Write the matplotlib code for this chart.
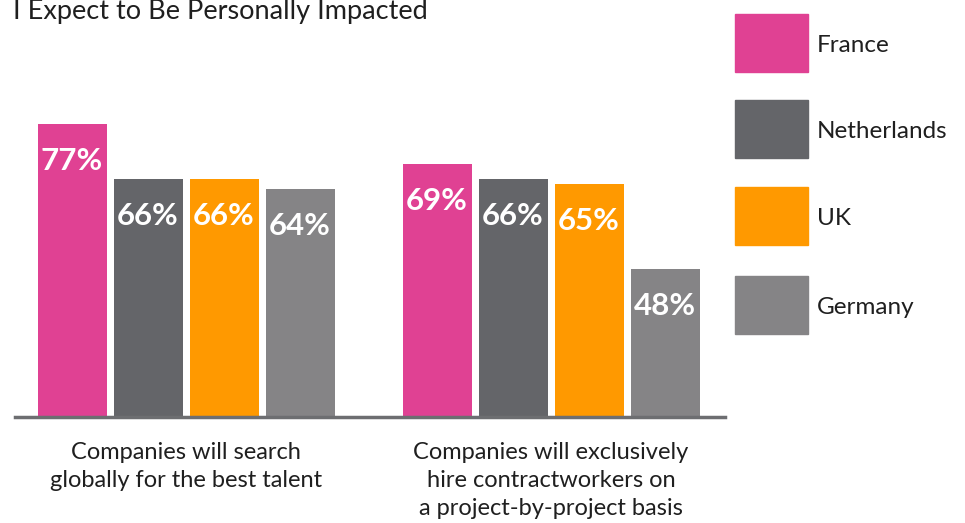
import matplotlib
matplotlib.use("Agg")
import matplotlib.pyplot as plt
from matplotlib.patches import Rectangle
import numpy as np

plt.rcParams['font.family'] = ['Lato', 'DejaVu Sans']

title = "I Expect to Be Personally Impacted"
categories = ["Companies will search\nglobally for the best talent",
              "Companies will exclusively\nhire contractworkers on\na project-by-project basis"]
countries = ["France", "Netherlands", "UK", "Germany"]
values = {
    "France":      [77, 69],
    "Netherlands": [66, 66],
    "UK":          [66, 65],
    "Germany":     [64, 48],
}
colors = {
    "France": "#E04193",
    "Netherlands": "#646569",
    "UK": "#FF9900",
    "Germany": "#858486",
}
TEXT = "#1f1f1f"
W, H = 965, 523
fig = plt.figure(figsize=(W / 100, H / 100), dpi=100)

# axes placed in pixel units: x 15..725, y 117..417 (from top)
ax = fig.add_axes([15 / W, (H - 417) / H, 710 / W, 300 / H])
ax.set_ylim(18.4, 78.4)
ax.set_xlim(-0.4685, 1.4767)

step = 76 / 365
width = 69 / 365
x = np.arange(len(categories))
for i, c in enumerate(countries):
    pos = x + (i - 1.5) * step
    ax.bar(pos, values[c], width=width, color=colors[c], bottom=0, zorder=2)
    for xp, v in zip(pos, values[c]):
        ax.text(xp, v - 7.4, f"{v}%", ha="center", va="center", color="white",
                fontsize=22.5, fontweight="bold", zorder=3)

for s in ["top", "right", "left"]:
    ax.spines[s].set_visible(False)
ax.spines["bottom"].set_color("#6d6e71")
ax.spines["bottom"].set_linewidth(2.5)
ax.set_yticks([])
ax.set_xticks(x)
ax.set_xticklabels(categories, fontsize=17, color=TEXT, linespacing=1.4,
                   va="top")
ax.tick_params(axis="x", length=0, pad=18)

fig.text(13 / W, 1 - 12 / H, title, fontsize=19.5, color=TEXT,
         ha="left", va="center")

# legend with large swatches
tops = [14, 100, 187, 276]
for c, t in zip(countries, tops):
    fig.patches.append(Rectangle((735 / W, 1 - (t + 58) / H), 73 / W, 58 / H,
                                 transform=fig.transFigure, color=colors[c]))
    fig.text(817 / W, 1 - (t + 31) / H, c, fontsize=17.5, color=TEXT,
             ha="left", va="center")

fig.savefig("out.png", dpi=100)
